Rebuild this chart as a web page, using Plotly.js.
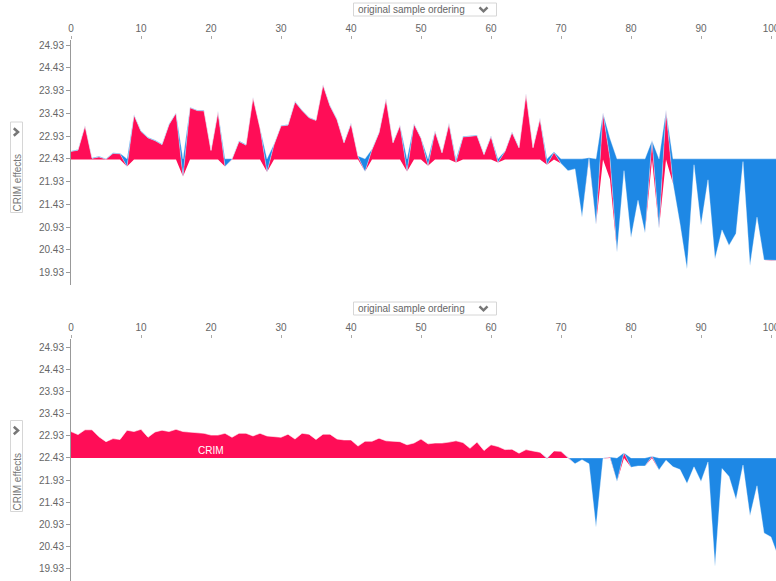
<!DOCTYPE html>
<html><head><meta charset="utf-8">
<script src="https://cdn.plot.ly/plotly-3.0.1.min.js"></script>
<style>html,body{margin:0;padding:0;background:#fff}#chart{width:776px;height:581px}</style>
</head><body><div id="chart"></div>
<script>
// ---- data ----
const baseValue = 22.43;
const sampleIndex = [0,1,2,3,4,5,6,7,8,9,10,11,12,13,14,15,16,17,18,19,20,21,22,23,24,25,26,27,28,29,30,31,32,33,34,35,36,37,38,39,40,41,42,43,44,45,46,47,48,49,50,51,52,53,54,55,56,57,58,59,60,61,62,63,64,65,66,67,68,69,70,71,72,73,74,75,76,77,78,79,80,81,82,83,84,85,86,87,88,89,90,91,92,93,94,95,96,97,98,99,100,101];

// top panel: model output per sample and total positive (red) push
const topOutput = [22.59,22.62,23.15,22.44,22.47,22.42,22.55,22.54,22.26,23.39,23.03,22.89,22.83,22.74,23.18,23.43,22.04,23.55,23.49,23.48,22.61,23.46,22.26,22.42,22.81,22.73,23.77,23.11,22.14,22.74,23.15,23.17,23.68,23.49,23.33,23.27,24.05,23.59,23.29,22.78,23.2,22.48,22.15,22.63,23.0,23.74,22.78,23.16,22.15,23.19,22.88,22.28,23.03,22.56,23.2,22.35,22.91,22.92,22.94,22.52,22.92,22.35,22.59,23.01,22.67,23.85,22.67,23.31,22.3,22.57,22.33,22.17,22.21,21.15,22.44,20.99,23.43,22.43,20.38,22.17,20.7,21.52,20.8,22.82,20.9,23.48,21.89,21.0,20.01,22.3,20.97,21.97,20.23,20.87,20.53,20.79,22.37,20.08,21.15,20.21,20.2,20.2];
const topPositive = [0.175,0.205,0.735,0.025,0.055,0.005,0.135,0.125,0,0.975,0.615,0.475,0.415,0.325,0.765,1.015,0,1.135,1.075,1.065,0.195,1.045,0,0.005,0.395,0.315,1.355,0.695,0,0.325,0.735,0.755,1.265,1.075,0.915,0.855,1.635,1.175,0.875,0.365,0.785,0.065,0,0.215,0.585,1.325,0.365,0.745,0,0.775,0.465,0,0.615,0.145,0.785,0,0.495,0.505,0.525,0.105,0.505,0,0.175,0.595,0.255,1.435,0.255,0.895,0,0.155,0,0,0,0,0.025,0,1.015,0.45,0,0,0,0,0,0.405,0,1.065,0,0,0,0,0,0,0,0,0,0,0,0,0,0,0,0];

// bottom panel: CRIM effect only (output per sample)
const crimOutput = [23.03,22.96,23.07,23.07,22.91,22.8,22.87,22.85,23.06,23.03,23.08,22.9,23.02,23.06,23.03,23.08,23.03,23.02,23.0,22.99,22.95,22.95,22.99,22.9,22.99,22.99,22.93,22.99,22.93,22.91,22.9,22.97,22.86,22.99,22.97,22.85,22.97,22.97,22.86,22.84,22.84,22.7,22.81,22.81,22.88,22.82,22.81,22.8,22.73,22.77,22.86,22.75,22.77,22.77,22.79,22.82,22.78,22.65,22.79,22.6,22.73,22.69,22.62,22.63,22.54,22.62,22.59,22.56,22.42,22.59,22.58,22.43,22.3,22.39,22.3,20.86,22.42,22.45,21.9,22.55,22.22,22.25,22.25,22.47,22.16,22.38,22.23,22.17,21.85,22.23,21.9,22.34,19.97,22.19,22.01,21.49,22.27,21.12,21.8,20.73,20.64,20.2];

const xTickVals = [0,10,20,30,40,50,60,70,80,90,100];
const yTickVals = [24.93,24.43,23.93,23.43,22.93,22.43,21.93,21.43,20.93,20.43,19.93];
const yTickText = ['24.93','24.43','23.93','23.43','22.93','22.43','21.93','21.43','20.93','20.43','19.93'];
const orderingLabel = 'original sample ordering';
const effectsLabel = 'CRIM effects';
const featureName = 'CRIM';

// ---- styles ----
const RED = '#ff0d57', BLUE = '#1e88e5';
const EDGE = 'rgba(255,255,255,0.45)';
const FONT = 'Liberation Sans, Arial, Helvetica, sans-serif';

function bandTraces(out, pos, xa, ya) {
  const redLo = out.map((f, i) => f - pos[i]);
  const blueHi = pos.map(p => baseValue + p);
  const common = {x: sampleIndex, mode: 'lines', hoverinfo: 'skip', xaxis: xa, yaxis: ya, showlegend: false};
  return [
    Object.assign({}, common, {y: redLo, line: {width: 0}}),
    Object.assign({}, common, {y: out, fill: 'tonexty', fillcolor: RED, line: {width: 0}}),
    Object.assign({}, common, {y: out, line: {width: 0}}),
    Object.assign({}, common, {y: blueHi, fill: 'tonexty', fillcolor: BLUE, line: {width: 0}}),
    Object.assign({}, common, {y: blueHi, line: {width: 0.8, color: EDGE}}),
    Object.assign({}, common, {y: out, line: {width: 0.8, color: EDGE}})
  ];
}

const crimPositive = crimOutput.map(f => Math.max(f - baseValue, 0));
const traces = bandTraces(topOutput, topPositive, 'x', 'y').concat(bandTraces(crimOutput, crimPositive, 'x2', 'y2'));

const W = 776, H = 581, L = 71;
const PX = x => (x - L) / (W - L);
const PY = y => 1 - y / H;

function xAxis(anchor) {
  return {anchor: anchor, side: 'top', range: [0, 100.714], tickvals: xTickVals, ticks: 'outside', ticklen: 3,
    tickcolor: '#aaa', showline: false, showgrid: false, zeroline: false, ticklabeloverflow: 'allow',
    tickfont: {family: FONT, size: 10, color: '#666'}, fixedrange: true};
}
function yAxis(domain, range, anchor) {
  return {domain: domain, range: range, anchor: anchor, tickvals: yTickVals, ticktext: yTickText, ticks: 'outside', ticklen: 4,
    tickcolor: '#999', showline: true, linecolor: '#999', linewidth: 1, showgrid: false, zeroline: false,
    tickfont: {family: FONT, size: 10, color: '#666'}, fixedrange: true};
}

const shapes = [], annotations = [];
function panelDecor(dy, dyLeft, boxTop, boxBottom, textY) {
  shapes.push({type: 'rect', xref: 'paper', yref: 'paper', x0: PX(353.5), x1: PX(496.5), y0: PY(3 + dy), y1: PY(16 + dy),
    line: {color: '#d6d6d6', width: 1}, fillcolor: 'rgba(0,0,0,0)', layer: 'above'});
  shapes.push({type: 'path', xref: 'paper', yref: 'paper', layer: 'above',
    path: 'M' + PX(479.5) + ',' + PY(7.3 + dy) + ' L' + PX(483.5) + ',' + PY(11.3 + dy) + ' L' + PX(487.5) + ',' + PY(7.3 + dy),
    line: {color: '#777', width: 2.5}});
  annotations.push({xref: 'paper', yref: 'paper', x: PX(356), y: PY(9.6 + dy), xanchor: 'left', yanchor: 'middle',
    text: orderingLabel, showarrow: false, font: {family: FONT, size: 10, color: '#666'}});
  shapes.push({type: 'rect', xref: 'paper', yref: 'paper', x0: PX(10.5), x1: PX(22.5), y0: PY(boxTop), y1: PY(boxBottom),
    line: {color: '#d6d6d6', width: 1}, fillcolor: 'rgba(0,0,0,0)', layer: 'above'});
  shapes.push({type: 'path', xref: 'paper', yref: 'paper', layer: 'above',
    path: 'M' + PX(13.8) + ',' + PY(128.3 + dyLeft) + ' L' + PX(18) + ',' + PY(132 + dyLeft) + ' L' + PX(13.8) + ',' + PY(135.7 + dyLeft),
    line: {color: '#777', width: 2.5}});
  annotations.push({xref: 'paper', yref: 'paper', x: PX(16.5), y: PY(textY), xanchor: 'center', yanchor: 'middle',
    text: effectsLabel, textangle: -90, showarrow: false, font: {family: FONT, size: 10, color: '#777'}});
}
panelDecor(0, 0, 122, 212.5, 183);
panelDecor(299, 298.5, 420.5, 511.5, 482);
annotations.push({xref: 'x2', yref: 'y2', x: 20, y: 22.61, xanchor: 'center', yanchor: 'middle', text: featureName,
  showarrow: false, font: {family: FONT, size: 10, color: '#fff'}});

const layout = {
  width: W, height: H, margin: {l: L, r: 0, t: 0, b: 0, pad: 0},
  paper_bgcolor: '#fff', plot_bgcolor: '#fff', showlegend: false,
  xaxis: xAxis('y'),
  yaxis: yAxis([PY(285), PY(40)], [19.66, 25.04], 'x'),
  xaxis2: xAxis('y2'),
  yaxis2: yAxis([0, PY(339)], [19.642, 25.127], 'x2'),
  shapes: shapes, annotations: annotations
};

Plotly.newPlot('chart', traces, layout, {staticPlot: true, displayModeBar: false});
</script>
</body></html>
